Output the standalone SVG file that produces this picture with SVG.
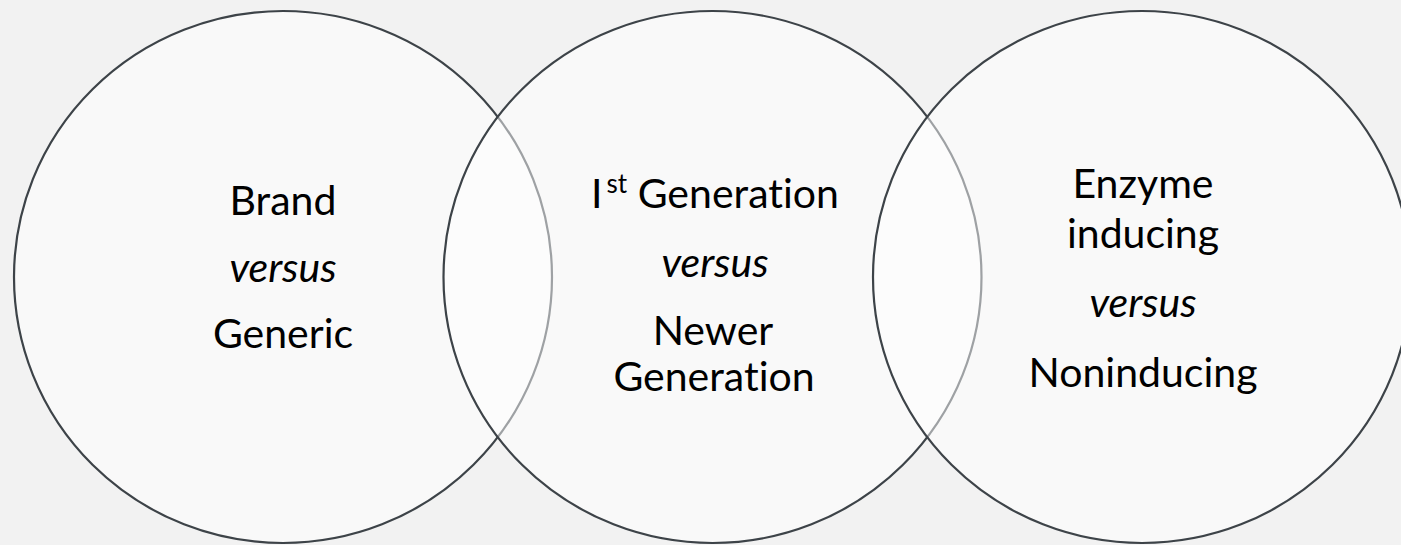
<svg xmlns="http://www.w3.org/2000/svg" width="1401" height="545" viewBox="0 0 1401 545">
  <style>
    .ring { fill: #ffffff; fill-opacity: 0.5; stroke: #3d4348; stroke-width: 2.2; }
    .lbl { font-family: Lato, "Open Sans", "Liberation Sans", sans-serif; font-size: 41px; fill: #000000; text-anchor: middle; font-variant-ligatures: none; font-feature-settings: "liga" 0, "clig" 0; }
    .it { font-style: italic; }
    .sup { font-size: 26px; }
  </style>
  <rect x="0" y="0" width="1401" height="545" fill="#f2f2f2"/>

  <!-- left set -->
  <g id="brand-generic">
    <ellipse class="ring" cx="283" cy="277" rx="269" ry="266"/>
    <text class="lbl" x="283" y="215">Brand</text>
    <text class="lbl it" x="283" y="282">versus</text>
    <text class="lbl" x="283" y="348">Generic</text>
  </g>

  <!-- middle set -->
  <g id="generation">
    <ellipse class="ring" cx="712.5" cy="277" rx="269" ry="266"/>
    <text class="lbl" x="715" y="208">I<tspan class="sup" dx="4" dy="-15">st</tspan><tspan dy="15"> Generation</tspan></text>
    <text class="lbl it" x="715" y="277">versus</text>
    <text class="lbl" x="713" y="345">Newer</text>
    <text class="lbl" x="714" y="391">Generation</text>
  </g>

  <!-- right set -->
  <g id="enzyme">
    <ellipse class="ring" cx="1142" cy="277" rx="269" ry="266"/>
    <text class="lbl" x="1143" y="198">Enzyme</text>
    <text class="lbl" x="1143" y="248">inducing</text>
    <text class="lbl it" x="1143" y="317">versus</text>
    <text class="lbl" x="1143" y="387">Noninducing</text>
  </g>

  <g id="connectors"/>
</svg>
